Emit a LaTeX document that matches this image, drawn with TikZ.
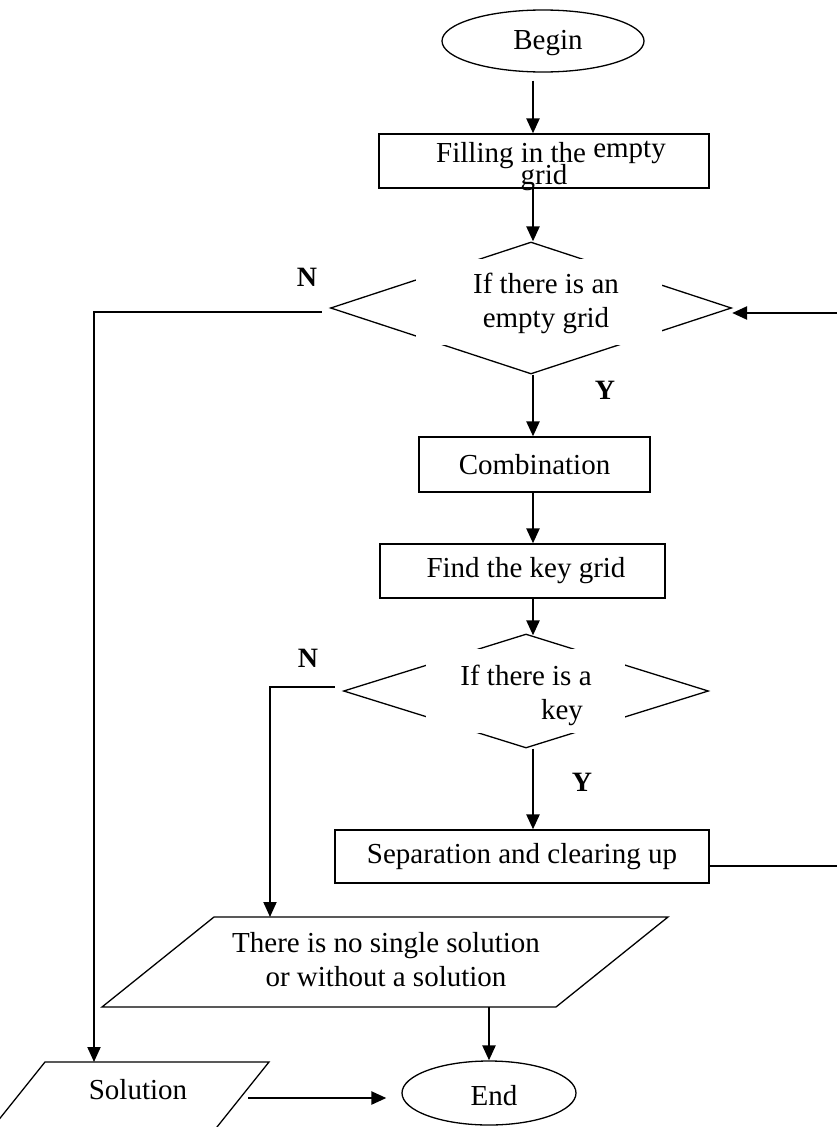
\documentclass[tikz,border=0pt]{standalone}
\usepackage{fontspec}
\setmainfont{Liberation Serif}
\usetikzlibrary{arrows.meta,shapes.geometric}
\begin{document}
\begin{tikzpicture}[x=1pt,y=-1pt,
  outline/.style={draw, line width=1.3pt},
  box/.style={outline, rectangle, inner sep=0pt},
  arr/.style={line width=2.4pt, -{Triangle[length=15pt,width=13pt]}},
  nline/.style={line width=2pt, -{Triangle[length=15pt,width=13pt]}},
  txt/.style={font=\fontsize{29}{34}\selectfont, align=center, inner sep=0pt},
  lbl/.style={font=\fontsize{28}{30}\selectfont\bfseries, inner sep=0pt},
  mask/.style={fill=white, inner sep=0pt},
]
\useasboundingbox (0,0) rectangle (837,1127);
\fill[white] (0,0) rectangle (837,1127);
\coordinate (col) at (533,0);
\coordinate (fbr) at (840,0);

% Begin
\node[ellipse, outline, minimum width=202pt, minimum height=62pt, txt] (begin) at (543,41) {};
\node[txt] (begint) at (548,43) {Begin};

% Filling box
\node[box, minimum width=330pt, minimum height=54pt] (fill) at (544,161) {};
\node[txt, anchor=base] (fillt1) at (551,162) {Filling in the \raisebox{5pt}{empty}};
\node[txt, anchor=base] (fillt2) at (544,184) {grid};

% Diamond 1
\node[diamond, outline, minimum width=401pt, minimum height=132pt, inner sep=0pt] (d1) at (531,308) {};
\node[mask, minimum width=246pt, minimum height=86pt] (d1m) at (539,302) {};
\node[txt] (d1t) at (546,303) {If there is an\\empty grid};

% Combination
\node[box, minimum width=231pt, minimum height=55pt, txt] (comb) at (534.5,464.5) {Combination};

% Find the key grid
\node[box, minimum width=285pt, minimum height=54pt] (find) at (522.5,571) {};
\node[txt] (findt) at (526,571) {Find the key grid};

% Diamond 2
\node[diamond, outline, minimum width=365pt, minimum height=114pt, inner sep=0pt] (d2) at (526,691) {};
\node[mask, minimum width=199pt, minimum height=84pt] (d2m) at (525.5,691) {};
\node[txt] (d2t) at (526,695.5) {If there is a\\\hspace*{72pt}key};

% Separation
\node[box, minimum width=374pt, minimum height=53pt, txt] (sep) at (522,856.5) {Separation and clearing up};

% Parallelogram: no single solution
\coordinate (pa) at (214,917);
\coordinate (pb) at (668,917);
\coordinate (pc) at (556,1007);
\coordinate (pd) at (102,1007);
\draw[outline] (pa) -- (pb) -- (pc) -- (pd) -- cycle;
\node[txt] (ptext) at (386,960) {There is no single solution\\or without a solution};
\coordinate (pin) at (270,917);
\coordinate (pout) at (489,1007);

% Solution parallelogram
\coordinate (sa) at (45,1062);
\coordinate (sb) at (269,1062);
\coordinate (sc) at (205,1142);
\coordinate (sd) at (-19,1142);
\draw[outline] (sa) -- (sb) -- (sc) -- (sd) -- cycle;
\node[txt] (solt) at (138,1090) {Solution};
\coordinate (solin) at (94,1062);
\coordinate (solarrow) at (248,1098);

% End
\node[ellipse, outline, minimum width=174pt, minimum height=64pt] (endn) at (489,1093) {};
\node[txt] (endt) at (494,1096) {End};

% Labels
\node[lbl] (n1) at (307,277) {N};
\node[lbl] (y1) at (605,390) {Y};
\node[lbl] (n2) at (308,658) {N};
\node[lbl] (y2) at (582,782) {Y};

% Connectors
\draw[arr, shorten <=8pt] (begin.south -| col) -- (fill.north -| col);
\draw[arr] (fill.south -| col) -- (d1.north -| col);
\draw[arr] (d1.south -| col) -- (comb.north -| col);
\draw[arr] (comb.south -| col) -- (find.north -| col);
\draw[arr] (find.south -| col) -- ([yshift=-2pt]d2.north -| col);
\draw[arr] (d2.south -| col) -- (sep.north -| col);

\coordinate (d1out) at ([xshift=-8pt,yshift=-4pt]d1.west);
\draw[nline] (d1out) -| (solin);
\coordinate (d2out) at ([xshift=-8pt,yshift=4pt]d2.west);
\draw[nline] (d2out) -| (pin);

\coordinate (sepout) at ([yshift=-9.5pt]sep.east);
\coordinate (d1in) at ([yshift=-5pt]d1.east);
\draw[arr] (sepout) -- (sepout -| fbr) |- (d1in);
\draw[line width=1.6pt] (sepout) -- (sepout -| fbr);

\draw[arr] (pout) -- (endn.north);
\draw[arr, shorten >=15pt] (solarrow) -- (solarrow -| endn.west);
\end{tikzpicture}
\end{document}
